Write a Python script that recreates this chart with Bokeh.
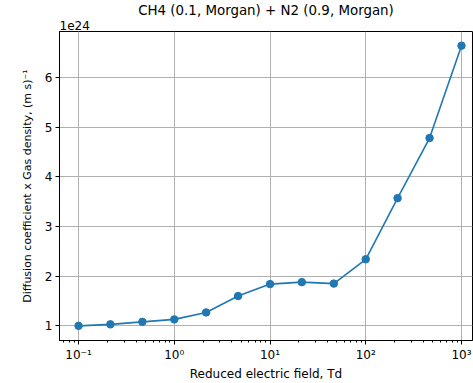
from bokeh.plotting import figure
from bokeh.models import Range1d, FixedTicker, Title, CustomJSTickFormatter
from bokeh.embed import file_html
from bokeh.resources import INLINE

# Data (y in units of 1e24)
field_td = [0.1, 0.215, 0.464, 1.0, 2.15, 4.64, 10.0, 21.5, 46.4, 100.0, 215.0, 464.0, 1000.0]
diffusion = [1.00, 1.03, 1.08, 1.13, 1.27, 1.60, 1.84, 1.88, 1.85, 2.34, 3.57, 4.78, 6.64]
x_major_ticks = [0.1, 1, 10, 100, 1000]
y_ticks = [1, 2, 3, 4, 5, 6]
title_text = "CH4 (0.1, Morgan) + N2 (0.9, Morgan)"
x_label = "Reduced electric field, Td"
y_label = "Diffusion coefficient x Gas density, (m s)\u207b\u00b9"
offset_text = "1e24"

FONT = "DejaVu Sans"
X_START, X_END = 10 ** -1.199, 10 ** 3.115
Y_START, Y_END = 0.705, 6.925

x_minor = []
for k in range(-2, 4):
    for m in range(2, 10):
        x_minor.append(m * 10.0 ** k)

p = figure(width=473, height=383, x_axis_type="log",
           x_range=Range1d(X_START, X_END),
           y_range=Range1d(Y_START, Y_END),
           output_backend="svg", toolbar_location=None,
           min_border_left=59, min_border_right=1, min_border_top=0, min_border_bottom=0)

p.title.text = title_text
p.title.align = "center"
p.title.text_font = FONT
p.title.text_font_size = "13.4px"
p.title.text_font_style = "normal"
p.title.text_color = "black"
p.title.standoff = 0

p.add_layout(Title(text=offset_text, align="left", standoff=3,
                   text_font=FONT, text_font_size="12px",
                   text_font_style="normal", text_color="black"), "above")

p.line(field_td, diffusion, line_color="#1f77b4", line_width=1.6)
p.scatter(field_td, diffusion, size=7.5, fill_color="#1f77b4", line_color="#1f77b4")

p.xaxis.ticker = FixedTicker(ticks=x_major_ticks, minor_ticks=x_minor)
p.xaxis.formatter = CustomJSTickFormatter(code="""
const sup = {'-':'\u207b','0':'\u2070','1':'\u00b9','2':'\u00b2','3':'\u00b3','4':'\u2074','5':'\u2075','6':'\u2076','7':'\u2077','8':'\u2078','9':'\u2079'};
const e = Math.round(Math.log10(tick)).toString();
let s = '';
for (const c of e) { s += sup[c]; }
return '10' + s;
""")
p.yaxis.ticker = FixedTicker(ticks=y_ticks)

for ax in (p.xaxis[0], p.yaxis[0]):
    ax.major_label_text_font = FONT
    ax.major_label_text_font_size = "12px"
    ax.major_label_text_color = "black"
    ax.axis_label_text_font = FONT
    ax.axis_label_text_font_size = "12px"
    ax.axis_label_text_font_style = "normal"
    ax.axis_label_text_color = "black"
    ax.axis_line_color = "black"
    ax.major_tick_line_color = "black"
    ax.minor_tick_line_color = "black"
    ax.major_tick_in = 0
    ax.major_tick_out = 4
    ax.minor_tick_in = 0
    ax.minor_tick_out = 2
    ax.major_label_standoff = 3
    ax.axis_label_standoff = 2

p.yaxis.axis_label_text_font_size = "11px"
p.yaxis.axis_label_standoff = 8
p.xaxis.axis_label = x_label
p.yaxis.axis_label = y_label
p.yaxis.minor_tick_line_color = None

p.xgrid.grid_line_color = "#b0b0b0"
p.ygrid.grid_line_color = "#b0b0b0"
p.xgrid.grid_line_width = 1
p.ygrid.grid_line_width = 1

p.outline_line_color = "black"
p.outline_line_width = 1
p.background_fill_color = "white"
p.border_fill_color = "white"

open("out.html", "w").write(file_html(p, INLINE))
